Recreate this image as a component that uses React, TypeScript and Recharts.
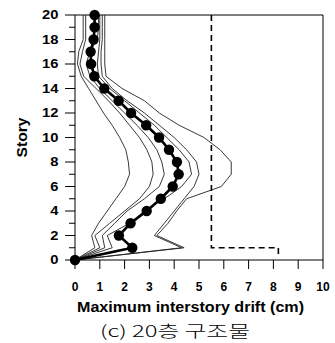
import React from 'react';
import { LineChart, Line, XAxis, YAxis, ReferenceLine } from 'recharts';

// Story levels (0 = ground, 20 = roof)
const stories = [0, 1, 2, 3, 4, 5, 6, 7, 8, 9, 10, 11, 12, 13, 14, 15, 16, 17, 18, 19, 20];

// Mean maximum interstory drift (cm) per story
const meanDrift = [0, 2.31, 1.77, 2.24, 2.89, 3.46, 3.94, 4.18, 4.11, 3.79, 3.39, 2.87, 2.26, 1.76, 1.18, 0.78, 0.65, 0.63, 0.75, 0.79, 0.79];

// Individual ground-motion records (cm)
const record1 = [0, 0.8, 0.67, 0.95, 1.3, 1.65, 2.0, 2.2, 2.15, 2.05, 1.8, 1.5, 1.15, 0.85, 0.55, 0.25, 0.1, 0.15, 0.33, 0.33, 0.33];
const record2 = [0, 1.0, 0.8, 1.4, 2.0, 2.6, 3.0, 3.15, 3.1, 2.9, 2.6, 2.2, 1.8, 1.35, 0.85, 0.35, 0.2, 0.3, 0.43, 0.43, 0.43];
const record3 = [0, 1.2, 1.1, 1.6, 2.1, 2.8, 3.4, 3.6, 3.5, 3.3, 2.95, 2.5, 2.0, 1.5, 1.0, 0.6, 0.45, 0.6, 0.9, 0.95, 0.95];
const record4 = [0, 1.5, 1.3, 2.2, 2.8, 3.6, 4.3, 4.7, 4.6, 4.2, 3.7, 3.2, 2.6, 2.0, 1.4, 0.95, 0.9, 0.95, 1.0, 1.0, 1.0];
const record5 = [0, 4.3, 3.2, 3.6, 4.0, 4.4, 4.8, 5.0, 4.9, 4.5, 4.0, 3.4, 2.8, 2.1, 1.5, 1.1, 1.05, 1.05, 1.1, 1.1, 1.1];
const record6 = [0, 4.4, 3.3, 3.75, 4.1, 4.5, 5.9, 6.3, 6.3, 5.85, 5.2, 4.2, 3.4, 2.8, 1.9, 1.25, 1.2, 1.2, 1.2, 1.2, 1.2];

// Allowable drift limit (dashed)
const limitStory = [20, 1, 1, 0.3];
const limitDrift = [5.5, 5.5, 8.2, 8.2];

const xTicks = [0, 1, 2, 3, 4, 5, 6, 7, 8, 9, 10];
const yTicks = stories;

const records = [record1, record2, record3, record4, record5, record6];

const profile = (drift: number[]) => stories.map((s, i) => ({ drift: drift[i], story: s }));
const meanData = profile(meanDrift);
const recordData = records.map(profile);
const limitData = limitStory.map((s, i) => ({ drift: limitDrift[i], story: s }));

const AXIS_FONT = '"Liberation Sans", Arial, sans-serif';

const YTick = (props: any) => {
  const { x, y, payload } = props;
  const v = payload.value as number;
  const major = v % 2 === 0;
  const label = String(v);
  return (
    <g>
      <line x1={x} x2={x - (major ? 10 : 6)} y1={y} y2={y} stroke="#000" strokeWidth={1} />
      {major && (
        <text
          x={x - 16.5}
          y={y + 4.3}
          textAnchor="end"
          fontFamily={AXIS_FONT}
          fontWeight="bold"
          fontSize={12}
          fill="#000"
          textLength={label.length * 8.2}
          lengthAdjust="spacingAndGlyphs"
        >
          {label}
        </text>
      )}
    </g>
  );
};

const XTick = (props: any) => {
  const { x, y, payload } = props;
  return (
    <g>
      <line x1={x} x2={x} y1={y} y2={y + 9} stroke="#000" strokeWidth={1} />
      <text
        x={x}
        y={y + 31}
        textAnchor="middle"
        fontFamily={AXIS_FONT}
        fontWeight="bold"
        fontSize={12}
        fill="#000"
      >
        {payload.value}
      </text>
    </g>
  );
};

const XTitle = (props: any) => {
  const vb = props.viewBox || { x: 0, y: 0 };
  return (
    <g>
      <text
        x={vb.x + 2}
        y={vb.y + 52}
        fontFamily={AXIS_FONT}
        fontWeight="bold"
        fontSize={14}
        fill="#000"
        textLength={227}
        lengthAdjust="spacingAndGlyphs"
      >
        Maximum interstory drift (cm)
      </text>
      <text
        x={vb.x + 25}
        y={vb.y + 77}
        fontFamily={'"Noto Sans CJK KR", "Noto Sans", sans-serif'}
        fontSize={16}
        fontWeight={300}
        fill="#000"
        textLength={150}
        lengthAdjust="spacingAndGlyphs"
      >
        (c) 20층  구조물
      </text>
    </g>
  );
};

const YTitle = (props: any) => {
  const vb = props.viewBox || { x: 0, y: 0, height: 0 };
  const cx = vb.x + 22;
  const cy = vb.y + vb.height / 2;
  return (
    <text
      x={cx}
      y={cy}
      transform={`rotate(-90 ${cx} ${cy})`}
      textAnchor="middle"
      dominantBaseline="central"
      fontFamily={AXIS_FONT}
      fontWeight="bold"
      fontSize={14}
      fill="#000"
      textLength={40}
      lengthAdjust="spacingAndGlyphs"
    >
      Story
    </text>
  );
};

const MeanDot = (props: any) => {
  const { cx, cy, index } = props;
  if (cx == null || cy == null) return <g key={index} />;
  return <circle key={index} cx={cx} cy={cy} r={5.2} fill="#000" stroke="none" />;
};

export default function App() {
  return (
    <div style={{ position: 'absolute', left: 0, top: 0, width: 335, height: 343, background: '#fff' }}>
      <LineChart width={335} height={343} margin={{ top: 15, right: 12, bottom: 0, left: 0 }}>
        <XAxis
          type="number"
          dataKey="drift"
          domain={[0, 10]}
          ticks={xTicks}
          interval={0}
          height={83}
          tickSize={0}
          tickMargin={0}
          tickLine={false}
          tick={<XTick />}
          axisLine={{ stroke: '#000', strokeWidth: 1 }}
          label={<XTitle />}
        />
        <YAxis
          type="number"
          domain={[0, 20]}
          ticks={yTicks}
          interval={0}
          width={75}
          tickSize={0}
          tickMargin={0}
          tickLine={false}
          tick={<YTick />}
          axisLine={{ stroke: '#000', strokeWidth: 1 }}
          label={<YTitle />}
        />
        <ReferenceLine y={20} stroke="#000" strokeWidth={1} />
        <ReferenceLine x={10} stroke="#000" strokeWidth={1} />
        {recordData.map((d, i) => (
          <Line
            key={`rec${i}`}
            data={d}
            dataKey="story"
            type="linear"
            stroke="#222"
            strokeWidth={0.9}
            dot={false}
            activeDot={false}
            isAnimationActive={false}
          />
        ))}
        <Line
          data={limitData}
          dataKey="story"
          type="linear"
          stroke="#000"
          strokeWidth={1.6}
          strokeDasharray="6 4"
          dot={false}
          activeDot={false}
          isAnimationActive={false}
        />
        <Line
          data={meanData}
          dataKey="story"
          type="linear"
          stroke="#000"
          strokeWidth={2.6}
          dot={<MeanDot />}
          activeDot={false}
          isAnimationActive={false}
        />
      </LineChart>
    </div>
  );
}
